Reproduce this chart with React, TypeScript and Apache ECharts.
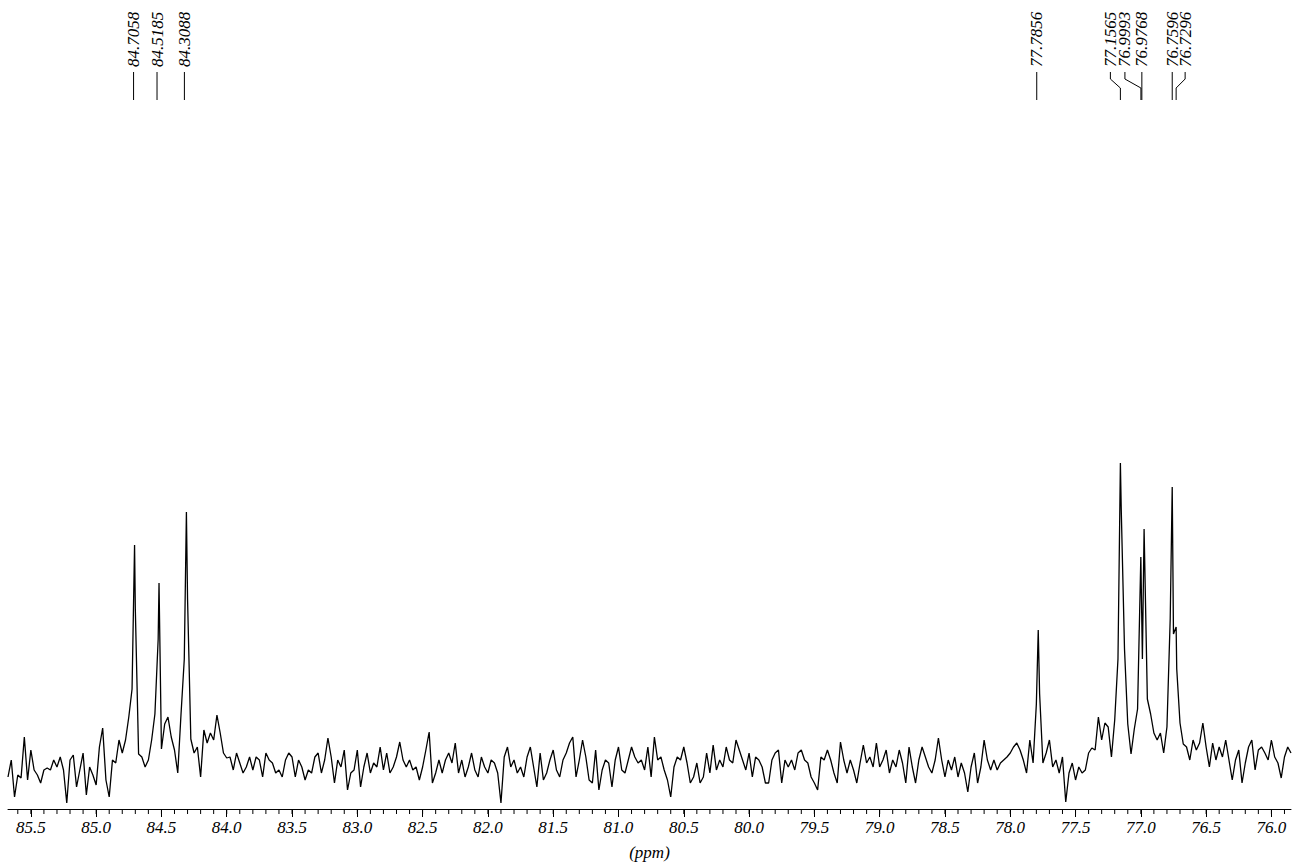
import React, { useEffect, useRef } from "react";
import * as echarts from "echarts";

// Spectrum sampled every 0.025 ppm starting at 85.675 ppm (intensity, arbitrary units)
const PPM_START = 85.675;
const PPM_STEP = 0.025;
const INTENSITY = [
  32, 49, 12, 34, 31, 72, 29, 59, 39, 34,
  26, 39, 41, 39, 49, 42, 52, 39, 6, 49,
  54, 22, 39, 56, 14, 42, 34, 24, 62, 81,
  29, 12, 49, 46, 69, 56, 69, 92, 120, 200,
  55, 52, 42, 49, 69, 95, 170, 60, 85, 92,
  72, 59, 36, 95, 150, 210, 70, 56, 62, 32,
  79, 66, 76, 69, 94, 76, 56, 51, 52, 39,
  56, 46, 36, 42, 52, 39, 52, 49, 32, 56,
  49, 46, 36, 39, 32, 49, 56, 52, 32, 49,
  42, 29, 39, 36, 52, 56, 36, 49, 71, 52,
  26, 49, 42, 59, 19, 36, 39, 59, 22, 42,
  56, 36, 46, 42, 62, 39, 56, 36, 42, 52,
  67, 49, 42, 49, 39, 42, 29, 42, 59, 77,
  26, 36, 49, 36, 49, 56, 46, 66, 36, 49,
  32, 42, 56, 39, 32, 52, 42, 36, 49, 46,
  36, 6, 52, 62, 42, 49, 36, 42, 32, 52,
  62, 42, 22, 56, 29, 36, 49, 59, 39, 32,
  49, 56, 66, 72, 32, 49, 69, 52, 29, 26,
  59, 19, 39, 49, 46, 22, 49, 62, 39, 36,
  49, 62, 52, 46, 49, 39, 62, 32, 72, 49,
  52, 39, 29, 12, 42, 52, 49, 62, 46, 26,
  32, 46, 26, 32, 56, 36, 64, 39, 49, 42,
  62, 49, 46, 69, 59, 49, 39, 56, 32, 52,
  49, 42, 26, 26, 49, 56, 59, 26, 49, 42,
  49, 39, 56, 59, 49, 46, 32, 26, 19, 52,
  49, 59, 49, 36, 26, 67, 49, 36, 49, 39,
  26, 46, 64, 46, 52, 42, 66, 42, 49, 59,
  36, 49, 42, 59, 46, 26, 62, 42, 26, 49,
  62, 52, 42, 36, 49, 71, 49, 32, 49, 39,
  52, 32, 46, 36, 17, 42, 56, 26, 42, 69,
  49, 39, 49, 39, 46, 49, 52, 56, 62, 66,
  59, 49, 36, 69, 46, 105, 115, 46, 56, 69,
  42, 49, 36, 52, 7, 36, 46, 29, 42, 36,
  39, 56, 61, 59, 92, 69, 86, 82, 52, 89,
  150, 300, 160, 85, 55, 80, 100, 252, 280, 110,
  95, 76, 69, 76, 56, 82, 190, 175, 140, 86,
  65, 62, 49, 69, 59, 66, 86, 62, 42, 66,
  49, 62, 52, 69, 49, 29, 49, 59, 26, 46,
  62, 69, 39, 59, 62, 56, 49, 69, 52, 46,
  31, 52, 62, 56,
];

// Sharp peak tips / valleys [ppm, intensity]
const PEAK_POINTS: number[][] = [
  [84.7058, 264],
  [84.5185, 226],
  [84.3088, 297],
  [77.7856, 179],
  [77.1565, 346],
  [76.988, 150],
  [76.7596, 322],
  [76.7296, 182],
];

// Peak-picking labels (ppm)
const PEAK_LABELS = [84.7058, 84.5185, 84.3088, 77.7856, 77.1565, 76.9993, 76.9768, 76.7596, 76.7296];

// Axis ticks
const MAJOR_TICKS = [85.5, 85.0, 84.5, 84.0, 83.5, 83.0, 82.5, 82.0, 81.5, 81.0, 80.5, 80.0, 79.5, 79.0, 78.5, 78.0, 77.5, 77.0, 76.5, 76.0];
const X_MIN = 75.85;
const X_MAX = 85.675;

// layout: horizontal shift (px) of label text from its peak
const LABEL_SHIFT = [-1, -2, -2, -1.5, -10, -16, -2, 0, 9];

const MINOR_TICKS: number[] = [];
for (let k = 759; k <= 856; k++) MINOR_TICKS.push(k / 10);

const FONT = '"Liberation Serif", "Times New Roman", serif';

export default function App() {
  const ref = useRef<HTMLDivElement>(null);
  useEffect(() => {
    if (!ref.current) return;
    const chart = echarts.init(ref.current, null, { renderer: "svg" });
    const base = INTENSITY.map((v, i) => [+(PPM_START - i * PPM_STEP).toFixed(4), v]);
    const data = base.concat(PEAK_POINTS).sort((a, b) => b[0] - a[0]);

    chart.setOption({
      animation: false,
      backgroundColor: "#fff",
      grid: { left: 8, right: 3, top: 109, bottom: 56, containLabel: false, outerBoundsMode: "none" },
      xAxis: {
        type: "value",
        min: X_MIN,
        max: X_MAX,
        inverse: true,
        position: "bottom",
        name: "(ppm)",
        nameLocation: "middle",
        nameGap: 35,
        nameTextStyle: { fontFamily: FONT, fontStyle: "italic", fontSize: 17, color: "#000" },
        axisLine: { show: true, onZero: false, lineStyle: { color: "#000", width: 1 } },
        axisTick: { show: true, customValues: MAJOR_TICKS, length: 8, lineStyle: { color: "#000" } },
        axisLabel: {
          show: true,
          customValues: MAJOR_TICKS,
          formatter: (v: number) => v.toFixed(1),
          fontFamily: FONT,
          fontStyle: "italic",
          fontSize: 17,
          color: "#000",
          margin: 10,
        },
        splitLine: { show: false },
      },
      yAxis: { type: "value", min: 0, max: 700, show: false },
      series: [
        {
          type: "line",
          data,
          showSymbol: false,
          symbol: "none",
          lineStyle: { color: "#000", width: 1.3 },
          silent: true,
        },
        {
          // minor ticks every 0.1 ppm
          type: "custom",
          clip: false,
          silent: true,
          data: MINOR_TICKS.map((v) => [v, 0]),
          renderItem: (params: any, api: any) => {
            const p = api.coord([api.value(0), 0]);
            return {
              type: "line",
              shape: { x1: p[0], y1: p[1], x2: p[0], y2: p[1] + 5 },
              style: { stroke: "#000", lineWidth: 1 },
            };
          },
        },
        {
          type: "custom",
          clip: false,
          silent: true,
          data: PEAK_LABELS.map((p) => [p, 0]),
          renderItem: (params: any, api: any) => {
            const ppm = api.value(0);
            const px = api.coord([ppm, 0])[0];
            const shift = LABEL_SHIFT[params.dataIndex] || 0;
            const tx = px + shift;
            const pts =
              Math.abs(shift) <= 2
                ? [[tx, 72], [tx, 100]]
                : [[tx, 72], [tx, 79], [px, 88], [px, 100]];
            return {
              type: "group",
              children: [
                {
                  type: "text",
                  x: tx,
                  y: 67,
                  rotation: Math.PI / 2,
                  style: {
                    text: ppm.toFixed(4),
                    x: 0,
                    y: 0,
                    fill: "#000",
                    font: 'italic 17px "Liberation Serif", "Times New Roman", serif',
                    align: "left",
                    verticalAlign: "middle",
                  },
                },
                {
                  type: "polyline",
                  shape: { points: pts },
                  style: { stroke: "#000", lineWidth: 1, fill: "none" },
                },
              ],
            };
          },
        },
      ],
    });
    return () => chart.dispose();
  }, []);
  return (
    <div
      ref={ref}
      style={{ position: "fixed", left: 0, top: 0, width: 1294, height: 865, background: "#fff" }}
    />
  );
}
